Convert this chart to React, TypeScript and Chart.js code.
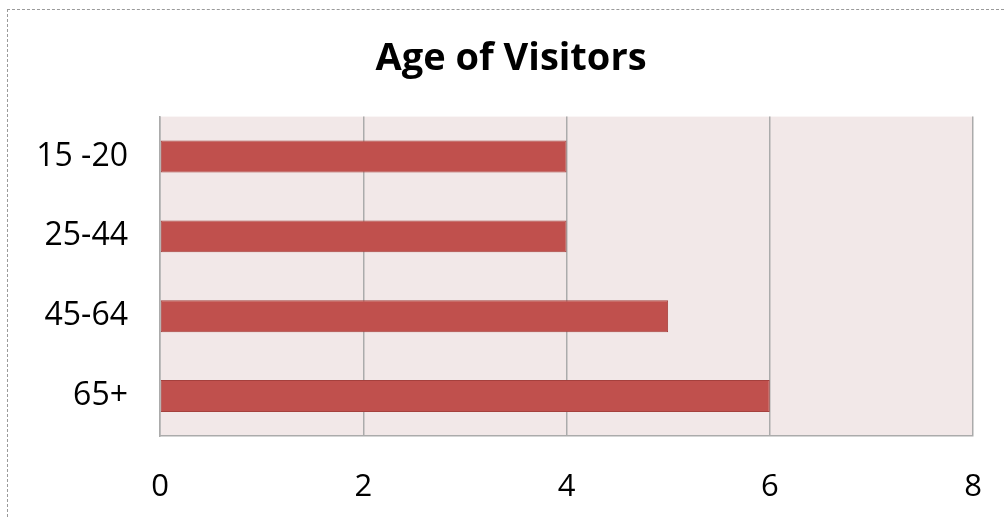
import React, { useEffect, useRef } from "react";
import { Chart, registerables } from "chart.js";

Chart.register(...registerables);

const categories = ["15 -20", "25-44", "45-64", "65+"];
const visitorCounts = [4, 4, 5, 6];
const xMin = 0;
const xMax = 8;
const xStep = 2;
const chartTitle = "Age of Visitors";

const plotBackground = {
  id: "plotBackground",
  beforeDraw(chart: any) {
    const { ctx, chartArea } = chart;
    if (!chartArea) return;
    ctx.save();
    ctx.fillStyle = "#F2E8E8";
    ctx.fillRect(chartArea.left, chartArea.top, chartArea.right - chartArea.left, chartArea.bottom - chartArea.top);
    ctx.restore();
  },
};

export default function App() {
  const canvasRef = useRef<HTMLCanvasElement | null>(null);

  useEffect(() => {
    if (!canvasRef.current) return;
    const chart = new Chart(canvasRef.current, {
      type: "bar",
      data: {
        labels: categories,
        datasets: [
          {
            label: "Visitors",
            data: visitorCounts,
            backgroundColor: "#C0504D",
            borderColor: "#A5403D",
            borderWidth: 1,
            borderSkipped: false,
            categoryPercentage: 1,
            barPercentage: 0.4,
          },
        ],
      },
      plugins: [plotBackground],
      options: {
        indexAxis: "y",
        responsive: false,
        animation: false,
        layout: { padding: { left: 36, right: 18, top: 0, bottom: 0 } },
        plugins: {
          legend: { display: false },
          tooltip: { enabled: false },
          title: {
            display: true,
            text: chartTitle,
            color: "#000000",
            font: { family: "'Open Sans'", size: 38, weight: "bold", lineHeight: 1.2 },
            padding: { top: 36, bottom: 35 },
          },
        },
        scales: {
          x: {
            type: "linear",
            min: xMin,
            max: xMax,
            ticks: {
              stepSize: xStep,
              color: "#000000",
              font: { family: "'Open Sans'", size: 31 },
              padding: 33,
            },
            grid: { color: "#ABABAB", lineWidth: 1.5, drawTicks: false },
            border: { display: true, color: "#ABABAB", width: 1.5 },
            afterFit(scale: any) {
              scale.height = 81;
              scale.paddingLeft = 0;
              scale.paddingRight = 31;
            },
          },
          y: {
            type: "category",
            ticks: {
              color: "#000000",
              font: { family: "'Open Sans'", size: 32 },
              padding: 32,
            },
            grid: { display: false, drawTicks: false },
            border: { display: true, color: "#ABABAB", width: 1.5 },
            afterFit(scale: any) {
              scale.width = 124;
              scale.paddingTop = 0;
              scale.paddingBottom = 0;
            },
          },
        },
      },
    });
    return () => chart.destroy();
  }, []);

  return (
    <div style={{ position: "fixed", left: 0, top: 0, width: 1004, height: 517, background: "#FFFFFF" }}>
      <div
        style={{
          position: "absolute",
          left: 7,
          top: 9,
          right: 0,
          bottom: 0,
          borderLeft: "1px dashed #9A9A9A",
          borderTop: "1px dashed #9A9A9A",
        }}
      />
      <canvas ref={canvasRef} width={1004} height={517} style={{ position: "absolute", left: 0, top: 0 }} />
    </div>
  );
}
